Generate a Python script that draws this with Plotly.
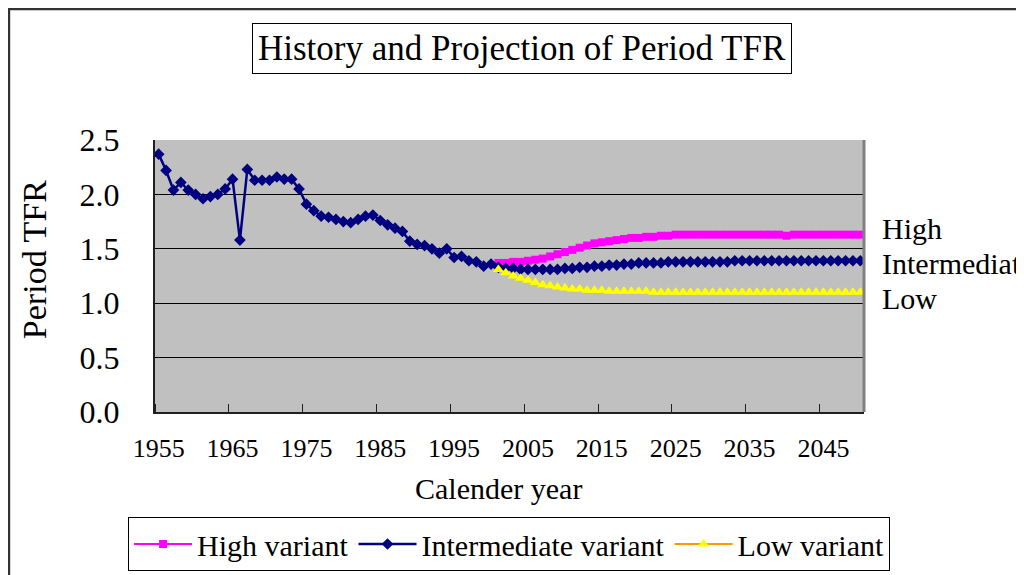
import plotly.graph_objects as go

# ---------------- data ----------------
years_hist = list(range(1955, 2001))
tfr_hist = [2.37, 2.22, 2.04, 2.11, 2.04, 2.00, 1.96, 1.98, 2.00, 2.05,
            2.14, 1.58, 2.23, 2.13, 2.13, 2.13, 2.16, 2.14, 2.14, 2.05,
            1.91, 1.85, 1.80, 1.79, 1.77, 1.75, 1.74, 1.77, 1.80, 1.81,
            1.76, 1.72, 1.69, 1.66, 1.57, 1.54, 1.53, 1.50, 1.46, 1.50,
            1.42, 1.43, 1.39, 1.38, 1.34, 1.36]

years_proj = list(range(2001, 2051))
tfr_mid_proj = [1.33, 1.32, 1.32, 1.31, 1.31, 1.31, 1.31, 1.31, 1.31, 1.32,
                1.32, 1.33, 1.33, 1.34, 1.34, 1.35, 1.35, 1.36, 1.36, 1.37,
                1.37, 1.37, 1.37, 1.38, 1.38, 1.38, 1.38, 1.38, 1.38, 1.38,
                1.38, 1.38, 1.39, 1.39, 1.39, 1.39, 1.39, 1.39, 1.39, 1.39,
                1.39, 1.39, 1.39, 1.39, 1.39, 1.39, 1.39, 1.39, 1.39, 1.39]
tfr_high = [1.37, 1.37, 1.38, 1.38, 1.39, 1.40, 1.41, 1.43, 1.45, 1.47,
            1.49, 1.51, 1.53, 1.55, 1.56, 1.57, 1.58, 1.59, 1.60, 1.60,
            1.61, 1.61, 1.62, 1.62, 1.63, 1.63, 1.63, 1.63, 1.63, 1.63,
            1.63, 1.63, 1.63, 1.63, 1.63, 1.63, 1.63, 1.63, 1.63, 1.62,
            1.63, 1.63, 1.63, 1.63, 1.63, 1.63, 1.63, 1.63, 1.63, 1.63]
tfr_low = [1.31, 1.28, 1.25, 1.23, 1.21, 1.19, 1.17, 1.16, 1.15, 1.14,
           1.13, 1.13, 1.12, 1.12, 1.12, 1.11, 1.11, 1.11, 1.11, 1.11,
           1.11, 1.10, 1.10, 1.10, 1.10, 1.10, 1.10, 1.10, 1.10, 1.10,
           1.10, 1.10, 1.10, 1.10, 1.10, 1.10, 1.10, 1.10, 1.10, 1.10,
           1.10, 1.10, 1.10, 1.10, 1.10, 1.10, 1.10, 1.10, 1.10, 1.10]

years_mid = years_hist + years_proj
tfr_mid = tfr_hist + tfr_mid_proj

x_tick_vals = list(range(1955, 2050, 10))
x_tick_text = [str(v) for v in x_tick_vals]
y_tick_vals = [0.0, 0.5, 1.0, 1.5, 2.0, 2.5]

title_text = "History and Projection of Period TFR"
x_title = "Calender year"
y_title = "Period TFR"
end_labels = ["High", "Intermediate", "Low"]
end_label_y = [1.69, 1.365, 1.04]

FONT = "Liberation Serif, Times New Roman, serif"

# ---------------- figure ----------------
fig = go.Figure()
fig.add_trace(go.Scatter(
    x=years_proj, y=tfr_high, name="High variant", mode="lines+markers",
    line=dict(color="#FF00FF", width=2),
    marker=dict(symbol="square", size=8, color="#FF00FF"),
    legendrank=1))
fig.add_trace(go.Scatter(
    x=years_mid, y=tfr_mid, name="Intermediate variant", mode="lines+markers",
    line=dict(color="#000080", width=2.5),
    marker=dict(symbol="diamond", size=9, color="#000080"),
    legendrank=2))
fig.add_trace(go.Scatter(
    x=years_proj, y=tfr_low, name="Low variant", mode="lines+markers",
    line=dict(color="#FF9900", width=2),
    marker=dict(symbol="triangle-up", size=10, color="#FFFF00"),
    legendrank=3))

# page body has an 8px margin: size the figure so it fits the window
fig.update_layout(
    width=1016, height=567,
    margin=dict(l=147, r=160, t=132, b=163, autoexpand=False),
    paper_bgcolor="white",
    plot_bgcolor="#C0C0C0",
    font=dict(family=FONT, color="black"),
    showlegend=True,
    legend=dict(
        orientation="h", x=-0.038, y=-0.386, xanchor="left", yanchor="top",
        bgcolor="white", bordercolor="black", borderwidth=1,
        font=dict(family=FONT, size=30), itemwidth=58,
        traceorder="normal"),
)

fig.update_xaxes(
    range=[1954.5, 2050.5], tickmode="array", tickvals=x_tick_vals,
    ticktext=x_tick_text, ticks="", showgrid=False, zeroline=False,
    tickfont=dict(family=FONT, size=26), ticklabelstandoff=12,
    showline=True, linecolor="#202020", linewidth=2,
    minor=dict(tick0=1954.5, dtick=10, ticks="inside", ticklen=8,
               tickcolor="#202020", tickwidth=1, showgrid=False),
)
fig.update_yaxes(
    range=[0, 2.5], tickmode="array", tickvals=y_tick_vals,
    tickformat=".1f", ticks="", showgrid=True, gridcolor="black",
    gridwidth=1, zeroline=False,
    tickfont=dict(family=FONT, size=32), ticklabelstandoff=27,
    showline=True, linecolor="#202020", linewidth=2,
)

# right edge of plot area
fig.add_shape(type="line", xref="paper", yref="paper", x0=1, x1=1, y0=0, y1=1,
              line=dict(color="#808080", width=3))
# outer chart frame
fig.add_shape(type="rect", xref="paper", yref="paper",
              x0=-0.206, x1=1.6, y0=-1.0, y1=1.4815,
              line=dict(color="#333333", width=2.5), fillcolor="rgba(0,0,0,0)")

# title with box
fig.add_annotation(text=title_text, xref="paper", yref="paper",
                   x=0.5176, y=1.338, xanchor="center", yanchor="middle",
                   showarrow=False, font=dict(family=FONT, size=35),
                   bordercolor="black", borderwidth=1, borderpad=5,
                   bgcolor="white")
# axis titles
fig.add_annotation(text=x_title, xref="paper", yref="paper",
                   x=0.4838, y=-0.283, xanchor="center", yanchor="middle",
                   showarrow=False, font=dict(family=FONT, size=30))
fig.add_annotation(text=y_title, xref="paper", yref="paper",
                   x=-0.169, y=0.559, xanchor="center", yanchor="middle",
                   textangle=-90, showarrow=False,
                   font=dict(family=FONT, size=34))
# end labels
for lab, yv in zip(end_labels, end_label_y):
    fig.add_annotation(text=lab, xref="paper", yref="y", x=1.0226, y=yv,
                       xanchor="left", yanchor="middle", showarrow=False,
                       font=dict(family=FONT, size=30))

fig.write_html("out.html")
